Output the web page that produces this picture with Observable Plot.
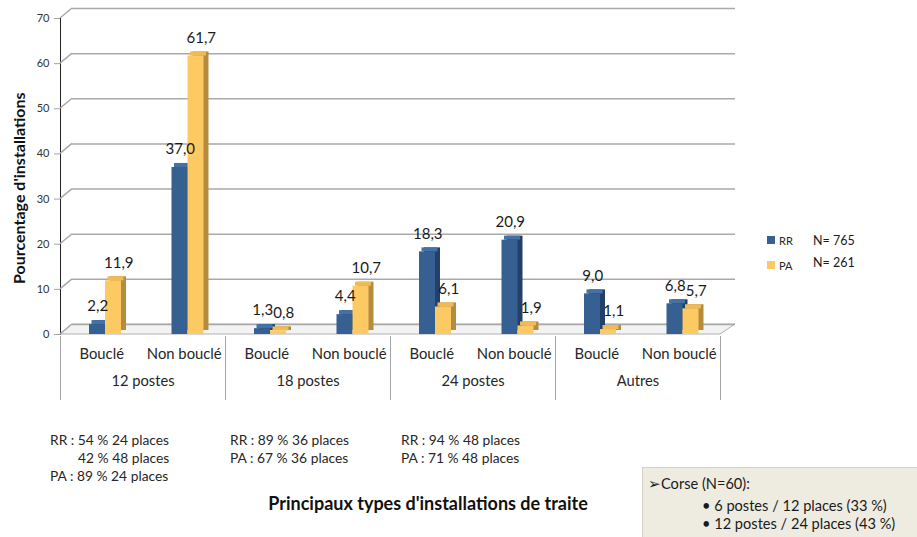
<!DOCTYPE html>
<html>
<head>
<meta charset="utf-8">
<script src="https://cdn.jsdelivr.net/npm/d3@7"></script>
<script src="https://cdn.jsdelivr.net/npm/@observablehq/plot@0.6"></script>
<style>
  body { margin: 0; background: #fff; }
  #wrap { position: relative; width: 917px; height: 537px; overflow: hidden;
          font-family: Lato, "Open Sans", sans-serif; color: #1a1a1a; }
  #chart { position: absolute; left: 0; top: 0; }
  .abs { position: absolute; white-space: nowrap; }
  #chart svg g[aria-label^="y-axis"] text { font-size: 11px; fill: #333; }
  #chart svg g[aria-label^="y-axis"] path,
  #chart svg g[aria-label^="y-axis"] line { stroke: #a6a6a6; }
  #chart svg g[aria-label^="x-axis"] text { font-size: 14.8px; fill: #262626; }
  .note { font-size: 13.8px; line-height: 18px; color: #262626; }
  .sq { position: absolute; width: 8px; height: 8px; }
  .bx { position: absolute; white-space: nowrap; font-size: 14.6px; line-height: 18px; color: #1a1a1a; }
</style>
</head>
<body>
<div id="wrap">
  <div id="chart"></div>
  <div id="ytitle" class="abs" style="left:19px;top:177px;transform-origin:0 0;transform:rotate(-90deg);font-weight:700;font-size:16px;line-height:20px;color:#111;"></div>
  <div id="legend"></div>
  <div id="notes"></div>
  <div id="xtitle" class="abs" style="left:428px;top:503px;transform:translate(-50%,-50%);font-weight:700;font-size:18px;color:#111;"></div>
  <div id="box" class="abs" style="left:642px;top:467px;width:280px;height:75px;background:#eeece1;border:1px solid #d4d2c8;"></div>
</div>
<script>
// ---- data ----
const groups = ["12 postes", "18 postes", "24 postes", "Autres"];
const types = ["Bouclé", "Non bouclé"];
const seriesNames = ["RR", "PA"];
const rrValues = [2.2, 37.0, 1.3, 4.4, 18.3, 20.9, 9.0, 6.8];
const paValues = [11.9, 61.7, 0.8, 10.7, 6.1, 1.9, 1.1, 5.7];
const yTicks = [0, 10, 20, 30, 40, 50, 60, 70];
const legendCounts = ["N= 765", "N= 261"];
const yTitle = "Pourcentage d'installations";
const xTitle = "Principaux types d'installations de traite";
const notesCol1 = ["RR :  54 % 24 places", "42 % 48 places", "PA : 89 % 24 places"];
const notesCol2 = ["RR : 89 % 36 places", "PA : 67 % 36 places"];
const notesCol3 = ["RR :  94 % 48 places", "PA : 71 % 48 places"];
const boxLines = ["Corse (N=60):", "6 postes / 12 places (33 %)", "12 postes / 24 places (43 %)"];

// ---- styles ----
const colors = {
  RR: { front: "#365f92", side: "#22406a", top: "#4472a8" },
  PA: { front: "#fdc962", side: "#b58b3e", top: "#eebb55" }
};

const keys = groups.flatMap(g => types.map(t => g + "|" + t));
const rows = keys.flatMap((k, i) => [
  { key: k, series: "RR", value: rrValues[i] },
  { key: k, series: "PA", value: paValues[i] }
]);
const rr = rows.filter(d => d.series === "RR");
const pa = rows.filter(d => d.series === "PA");
const fmt = v => v.toFixed(1).replace(".", ",");

const half = 41.25; // half band width (660 / 8 / 2)
const rrIns = { insetLeft: 29, insetRight: 37.5 };
const paIns = { insetLeft: 45, insetRight: 21.5 };

function barLayers(data, ins, c) {
  return [
    Plot.barY(data, { x: "key", y: "value", ...ins, dx: 5, dy: -4, fill: c.side }),
    Plot.barY(data, { x: "key", y1: "value", y2: "value", ...ins, insetTop: -4, dx: 2.5, fill: c.top }),
    Plot.barY(data, { x: "key", y: "value", ...ins, fill: c.front })
  ];
}

const chart = Plot.plot({
  width: 917,
  height: 410,
  marginLeft: 60,
  marginRight: 197,
  marginTop: 18,
  marginBottom: 76,
  style: { fontFamily: "Lato, 'Open Sans', sans-serif", color: "#222", background: "transparent" },
  x: { domain: keys, padding: 0, round: false, tickSize: 0, tickPadding: 14,
       tickFormat: k => k.split("|")[1], label: null },
  y: { domain: [0, 70], ticks: yTicks, tickSize: 6, tickPadding: 5, line: true, label: null },
  marks: [
    // back-wall gridlines
    Plot.ruleY(yTicks, { dx: 12, dy: -10, stroke: "#a9a9a9", strokeWidth: 1.5, insetRight: -3 }),
    // group separators below the floor
    Plot.ruleX(groups.map(g => g + "|Bouclé"), { dx: -half, stroke: "#a6a6a6", insetTop: 318, insetBottom: -66 }),
    Plot.ruleX([keys[keys.length - 1]], { dx: half, stroke: "#a6a6a6", insetTop: 318, insetBottom: -66 }),
    // group labels
    Plot.text(groups, { x: g => g + "|Bouclé", text: g => g, frameAnchor: "bottom", dx: half, dy: 51,
                        fontSize: 14.7, fill: "#262626" }),
    ...barLayers(rr, rrIns, colors.RR),
    ...barLayers(pa, paIns, colors.PA),
    Plot.text(rr, { x: "key", y: "value", text: d => fmt(d.value), dx: -4, dy: -18, fontSize: 15, fill: "#1a1a1a" }),
    Plot.text(pa, { x: "key", y: "value", text: d => fmt(d.value), dx: 17, dy: -18, fontSize: 15, fill: "#1a1a1a" })
  ]
});
document.getElementById("chart").appendChild(chart);

// ---- 3D floor and left-wall diagonals, placed with Plot's own scales ----
(function () {
  const ys = chart.scale("y"), xs = chart.scale("x");
  const y = d3.scaleLinear().domain(ys.domain).range(ys.range);
  const x0 = xs.range[0], x1 = xs.range[1];
  const svg = d3.select(chart);
  const g = svg.insert("g", "g");
  const y0 = y(0);
  g.append("polygon")
    .attr("points", [[x0, y0], [x1, y0], [x1 + 15, y0 - 10], [x0 + 12, y0 - 10]].map(p => p.join(",")).join(" "))
    .attr("fill", "#f3f3f3").attr("stroke", "#b0b0b0").attr("stroke-width", 1);
  g.selectAll("line.diag").data(yTicks).join("line")
    .attr("x1", x0).attr("y1", d => y(d))
    .attr("x2", x0 + 12).attr("y2", d => y(d) - 10)
    .attr("stroke", "#a9a9a9").attr("stroke-width", 1.5);
})();

// ---- HTML text around the plot ----
const yt = document.getElementById("ytitle");
yt.textContent = yTitle;
// centre the rotated title on (19, 188)
{
  const w = yt.offsetWidth, h = yt.offsetHeight;
  yt.style.left = (19 - h / 2) + "px";
  yt.style.top = (188 + w / 2) + "px";
}
document.getElementById("xtitle").textContent = xTitle;

const legend = document.getElementById("legend");
seriesNames.forEach((s, i) => {
  const top = 236 + i * 25;
  legend.insertAdjacentHTML("beforeend",
    `<div class="sq" style="left:767px;top:${top}px;background:${colors[s].front}"></div>` +
    `<div class="abs" style="left:779px;top:${top + 4}px;transform:translateY(-50%);font-size:11px;color:#262626">${s}</div>` +
    `<div class="abs" style="left:813px;top:${240 + i * 22}px;transform:translateY(-50%);font-size:12.5px;color:#1a1a1a">${legendCounts[i]}</div>`);
});

const notes = document.getElementById("notes");
function noteCol(lines, left, indents) {
  lines.forEach((t, i) => {
    const l = left + (indents && indents[i] ? indents[i] : 0);
    notes.insertAdjacentHTML("beforeend",
      `<div class="abs note" style="left:${l}px;top:${431 + i * 17.8}px">${t}</div>`);
  });
}
noteCol(notesCol1, 50, [0, 28, 0]);
noteCol(notesCol2, 230);
noteCol(notesCol3, 401);

const box = document.getElementById("box");
box.innerHTML =
  `<div class="bx" style="left:5px;top:7px">&#x27A2;${boxLines[0]}</div>` +
  `<div class="bx" style="left:59px;top:29px">&#8226; ${boxLines[1]}</div>` +
  `<div class="bx" style="left:59px;top:47px">&#8226; ${boxLines[2]}</div>`;
</script>
</body>
</html>
